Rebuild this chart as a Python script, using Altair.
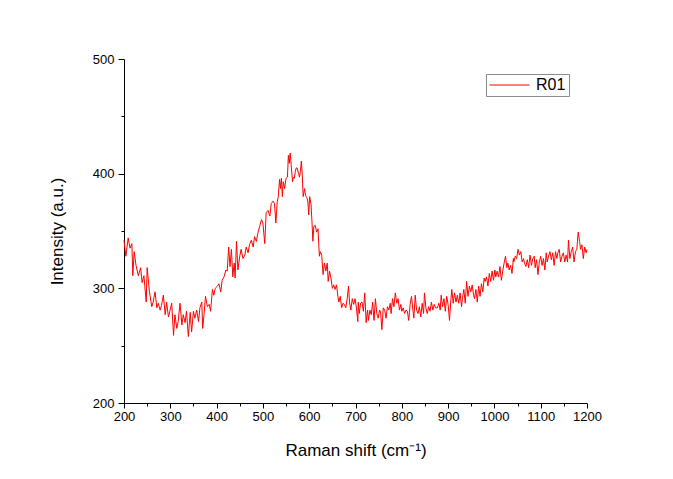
import altair as alt
import pandas as pd

# Raman shift (cm-1) and intensity (a.u.), by segment
x_a = [200,204,209,213,217,219,222,226,231,236,239,243,248,250,255,260,263,267,271,274,
       278,281,285,289,292,296,299,303,307,310,314,317,321,325,328,332,335,339,343,346,
       350,353,357,361,364,368]
y_a = [342,328,344,335,339,311,332,320,311,318,305,311,288,318,297,284,288,297,283,287,
       281,285,294,277,288,275,280,287,259,277,265,271,287,268,277,270,280,258,279,262,
       280,274,281,271,283,288]

x_b = [370,373,376,380,384,387,391,394,397,402,405,409,412,416,420,423,426,429,432,435,
       438,440,443,446,450,453,457,461,464,468,471,475,479,482,486,489,493,497,500,504,
       507,511,515,518,522,525]
y_b = [265,278,293,284,286,280,299,294,300,302,304,297,307,310,316,315,336,319,334,310,
       322,309,341,316,328,334,326,329,336,331,338,342,336,345,341,348,354,360,357,339,
       366,368,363,374,376,374]

x_c = [528,531,533,536,538,540,542,544,547,550,553,555,557,559,561,564,566,568,570,572,
       574,577,579,581,583,585,587,590,592,595,597,599,601,604,606,608,610,613,616,619,
       622,624,627,630,633,636,639,641,644,647,650,653,656,659,662,664,667,670,673,676,
       679,682,685,687,690,693,696,699,702,705]
y_c = [357,376,379,395,387,396,380,393,387,396,397,416,409,418,408,393,397,396,402,405,
       405,400,397,402,411,399,380,387,381,379,376,364,380,373,358,341,354,355,349,352,
       328,332,329,312,322,315,322,306,315,309,300,303,299,303,293,288,293,283,287,286,
       283,291,302,288,281,291,286,291,283,271]

x_d = [706,708,711,714,717,720,723,726,728,731,734,737,740,743,746,749,752,754,757,760,
       763,766,769,772,775,777,780,783,786,789,792,795,798,800,803,806,809,812,815,818,
       821,824,826,829,832,835,838,841,844,847,849,852,855,858,861,864,867,870,873]
y_d = [288,278,287,288,280,296,270,281,272,281,277,288,272,291,278,274,281,280,264,283,
       281,274,284,281,287,278,291,284,296,287,291,281,286,280,283,278,281,280,272,286,
       293,281,274,294,281,278,284,275,287,278,296,283,278,284,280,288,281,286,283]

x_e = [877,880,883,885,888,891,894,897,900,903,906,908,911,914,917,920,923,926,929,931,
       934,937,940,943,946,949,952,955,957,960,963,966,969,972,975,978,980,983,986,989,
       992,995,998,1001,1003,1006,1009,1012,1015,1018,1021,1024,1027,1029,1032,1035,1038,1041]
y_e = [283,287,281,294,284,291,280,293,286,272,290,299,287,296,288,294,287,296,284,291,
       299,287,306,293,302,297,303,294,291,299,288,302,293,304,297,309,306,310,302,313,
       306,315,307,316,310,315,310,319,307,315,322,328,318,322,316,320,313,326]

x_f = [1042,1045,1048,1051,1054,1057,1060,1063,1065,1068,1071,1074,1077,1080,1083,1086,1088,1091,1094,1097,
       1100,1103,1106,1109,1112,1114,1117,1120,1123,1126,1129,1132,1135,1137,1140,1143,1146,1149,1152,1155,
       1158,1160,1163,1166,1169,1172,1175,1178,1181,1184,1186,1189,1192,1195,1198,1200]
y_f = [323,328,326,334,329,332,323,326,322,319,325,318,329,320,326,328,318,325,312,323,
       328,320,326,316,331,323,328,332,325,331,320,332,326,331,334,323,328,331,323,329,
       323,342,326,332,336,323,332,334,349,341,334,338,326,336,331,334]

series_name = "R01"
x_ticks = list(range(200, 1201, 50))
y_ticks = list(range(200, 501, 50))

xs = x_a + x_b + x_c + x_d + x_e + x_f
ys = y_a + y_b + y_c + y_d + y_e + y_f
df = pd.DataFrame({"shift": xs, "intensity": ys, "series": [series_name] * len(xs)})

FONT = "Liberation Sans"

chart = alt.Chart(df).mark_line(strokeWidth=1, interpolate="linear").encode(
    x=alt.X("shift:Q",
            scale=alt.Scale(domain=[200, 1200], nice=False, zero=False),
            axis=alt.Axis(values=x_ticks,
                          labelExpr="datum.value % 100 === 0 ? datum.label : ''",
                          tickSize={"condition": {"test": "datum.value % 100 === 0", "value": 5}, "value": 3},
                          format="d",
                          title="Raman shift (cm⁻¹)",
                          titlePadding=19,
                          labelPadding=2,
                          labelFlush=False,
                          labelOverlap=False)),
    y=alt.Y("intensity:Q",
            scale=alt.Scale(domain=[200, 500], nice=False, zero=False),
            axis=alt.Axis(values=y_ticks,
                          labelExpr="datum.value % 100 === 0 ? datum.label : ''",
                          tickSize={"condition": {"test": "datum.value % 100 === 0", "value": 6}, "value": 3},
                          format="d",
                          title="Intensity (a.u.)",
                          titlePadding=26,
                          labelPadding=4,
                          labelOverlap=False)),
    color=alt.Color("series:N",
                    scale=alt.Scale(domain=[series_name], range=["#ff0000"]),
                    legend=alt.Legend(orient="none", legendX=362, legendY=15,
                                      title=None, symbolType="stroke", symbolSize=1600,
                                      symbolStrokeWidth=1, labelFontSize=16, labelFont=FONT,
                                      labelColor="black", labelOffset=6, clipHeight=16,
                                      strokeColor="#8c8c8c", padding=3)),
).properties(
    width=463, height=344,
    background="white",
    autosize=alt.AutoSizeParams(type="none"),
    padding={"left": 116, "top": 51, "right": 70, "bottom": 60},
).configure_view(strokeWidth=0).configure_axis(
    grid=False, domainColor="black", tickColor="black", domainWidth=1, tickWidth=1,
    labelFont=FONT, labelFontSize=13, labelColor="black",
    titleFont=FONT, titleFontSize=17, titleFontWeight="normal", titleColor="black",
)

chart.save("out.html", embed_options={"renderer": "svg", "actions": False})
